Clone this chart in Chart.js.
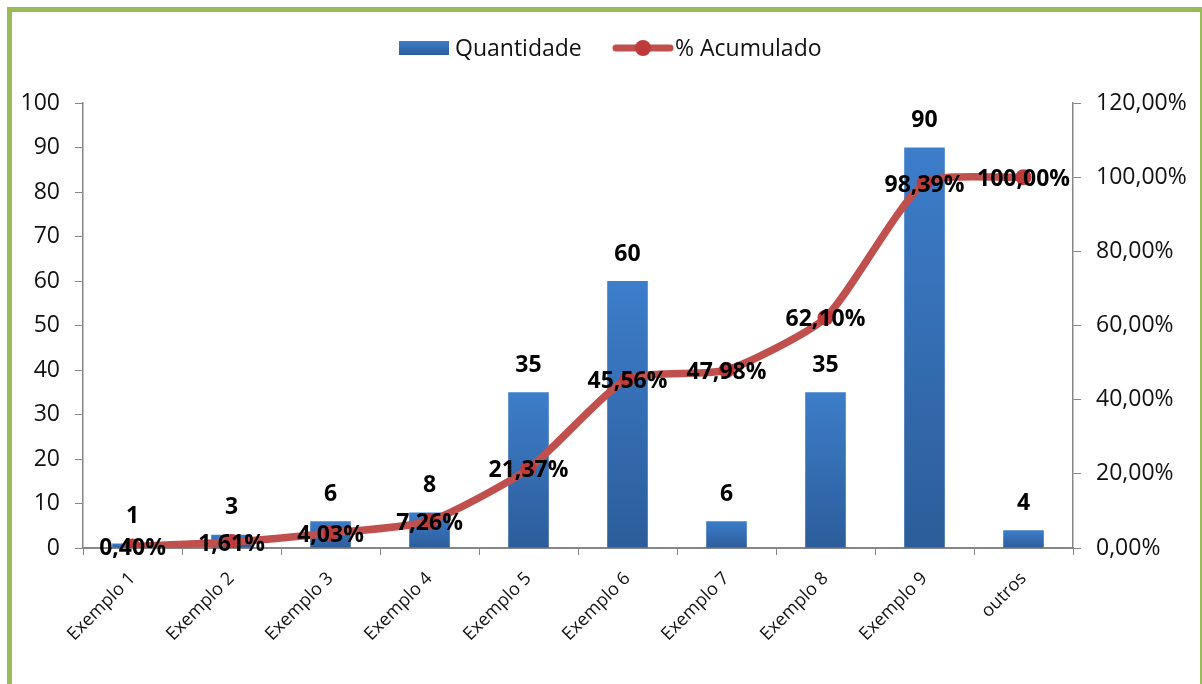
<!DOCTYPE html>
<html>
<head>
<meta charset="utf-8">
<script src="https://cdn.jsdelivr.net/npm/chart.js@4/dist/chart.umd.min.js"></script>
<style>
  html, body { margin: 0; padding: 0; background: #fff; overflow: hidden; }
  #wrap { position: absolute; left: 0; top: 0; width: 1202px; height: 684px; overflow: hidden; }
  #frame { position: absolute; left: 7px; top: 7px; width: 1188px; height: 700px; border: 5px solid #9BBB59; box-sizing: content-box; pointer-events: none; }
  canvas { position: absolute; left: 0; top: 0; }
</style>
</head>
<body>
<div id="wrap">
  <canvas id="c" width="1202" height="684"></canvas>
  <div id="frame"></div>
</div>
<script>
const categories = ["Exemplo 1","Exemplo 2","Exemplo 3","Exemplo 4","Exemplo 5","Exemplo 6","Exemplo 7","Exemplo 8","Exemplo 9","outros"];
const quantidade = [1, 3, 6, 8, 35, 60, 6, 35, 90, 4];
const acumulado = [0.40, 1.61, 4.03, 7.26, 21.37, 45.56, 47.98, 62.10, 98.39, 100.00];
const seriesNames = ["Quantidade", "% Acumulado"];

const FONT = "'Open Sans', 'DejaVu Sans', sans-serif";
const RED = '#C0504D';
const DOT = '#BF3B3B';
const BLUE_TOP = '#3D7DCA';
const BLUE_BOT = '#2C5D9A';

function fmtPct(v) { return v.toFixed(2).replace('.', ',') + '%'; }

const labelPlugin = {
  id: 'valueLabels',
  afterDatasetsDraw(chart) {
    const ctx = chart.ctx;
    ctx.save();
    ctx.textAlign = 'center';
    ctx.textBaseline = 'middle';
    ctx.font = 'bold 23px ' + FONT;
    ctx.fillStyle = '#000';
    const barMeta = chart.getDatasetMeta(1);
    barMeta.data.forEach((el, i) => {
      ctx.fillText(String(quantidade[i]), el.x, el.y - 27);
    });
    const lineMeta = chart.getDatasetMeta(0);
    lineMeta.data.forEach((el, i) => {
      ctx.fillText(fmtPct(acumulado[i]), el.x, el.y + 2);
    });
    ctx.restore();
  }
};

// Legend drawn in the same style as the original (bar swatch, line-with-marker swatch)
const legendPlugin = {
  id: 'customLegend',
  afterDraw(chart) {
    const ctx = chart.ctx;
    ctx.save();
    const cy = 48;
    ctx.font = '23px ' + FONT;
    ctx.textBaseline = 'middle';
    ctx.textAlign = 'left';
    const gr = ctx.createLinearGradient(0, cy - 7, 0, cy + 7);
    gr.addColorStop(0, BLUE_TOP); gr.addColorStop(1, BLUE_BOT);
    ctx.fillStyle = gr;
    ctx.fillRect(399, cy - 7, 50, 14);
    ctx.fillStyle = '#111';
    ctx.fillText(seriesNames[0], 455, cy + 1);
    ctx.strokeStyle = RED; ctx.lineWidth = 7; ctx.lineCap = 'round';
    ctx.beginPath(); ctx.moveTo(616, cy); ctx.lineTo(670, cy); ctx.stroke();
    ctx.fillStyle = DOT;
    ctx.beginPath(); ctx.arc(643, cy, 8, 0, Math.PI * 2); ctx.fill();
    ctx.fillStyle = '#111';
    ctx.fillText(seriesNames[1], 675, cy + 1);
    ctx.restore();
  }
};

const bgPlugin = {
  id: 'bg',
  beforeDraw(chart) {
    const ctx = chart.ctx;
    ctx.save(); ctx.fillStyle = '#fff'; ctx.fillRect(0, 0, chart.width, chart.height); ctx.restore();
  }
};

const chart = new Chart(document.getElementById('c'), {
  data: {
    labels: categories,
    datasets: [
      {
        type: 'line',
        label: seriesNames[1],
        data: acumulado,
        yAxisID: 'y1',
        borderColor: RED,
        borderWidth: 7.5,
        backgroundColor: DOT,
        pointRadius: 8,
        pointBorderWidth: 0,
        tension: 0.2,
        order: 0
      },
      {
        type: 'bar',
        label: seriesNames[0],
        data: quantidade,
        yAxisID: 'y',
        barPercentage: 0.41,
        categoryPercentage: 1.0,
        backgroundColor: (c) => {
          const ch = c.chart;
          const ys = ch.scales.y;
          if (!ys || c.raw === undefined) return '#3A76BF';
          const top = ys.getPixelForValue(c.raw);
          const bot = ys.getPixelForValue(0);
          if (!isFinite(top) || !isFinite(bot) || bot - top < 1) return '#3A76BF';
          const gr = ch.ctx.createLinearGradient(0, top, 0, bot);
          gr.addColorStop(0, BLUE_TOP);
          gr.addColorStop(1, BLUE_BOT);
          return gr;
        },
        order: 1
      }
    ]
  },
  options: {
    responsive: false,
    animation: false,
    layout: { padding: { left: 0, right: 0, top: 103, bottom: 0 } },
    plugins: {
      legend: { display: false },
      tooltip: { enabled: false }
    },
    scales: {
      x: {
        grid: { display: true, drawOnChartArea: false, offset: true, color: '#868686', tickLength: 7, tickColor: '#868686' },
        border: { display: true, color: '#868686', width: 2 },
        ticks: { font: { family: FONT, size: 18 }, color: '#111', minRotation: 45, maxRotation: 45, padding: 13 },
        afterFit: (s) => { s.height = 136; }
      },
      y: {
        position: 'left',
        min: 0, max: 100,
        grid: { display: true, drawOnChartArea: false, color: '#868686', tickLength: 8 },
        border: { display: true, color: '#868686', width: 1.5 },
        ticks: { stepSize: 10, font: { family: FONT, size: 23 }, color: '#111', padding: 15 },
        afterFit: (s) => { s.width = 83; }
      },
      y1: {
        position: 'right',
        min: 0, max: 120,
        grid: { display: true, drawOnChartArea: false, color: '#868686', tickLength: 8 },
        border: { display: true, color: '#868686', width: 1.5 },
        ticks: { stepSize: 20, font: { family: FONT, size: 23 }, color: '#111', padding: 15,
          callback: (v) => fmtPct(v) },
        afterFit: (s) => { s.width = 129; }
      }
    }
  },
  plugins: [bgPlugin, labelPlugin, legendPlugin]
});
</script>
</body>
</html>
